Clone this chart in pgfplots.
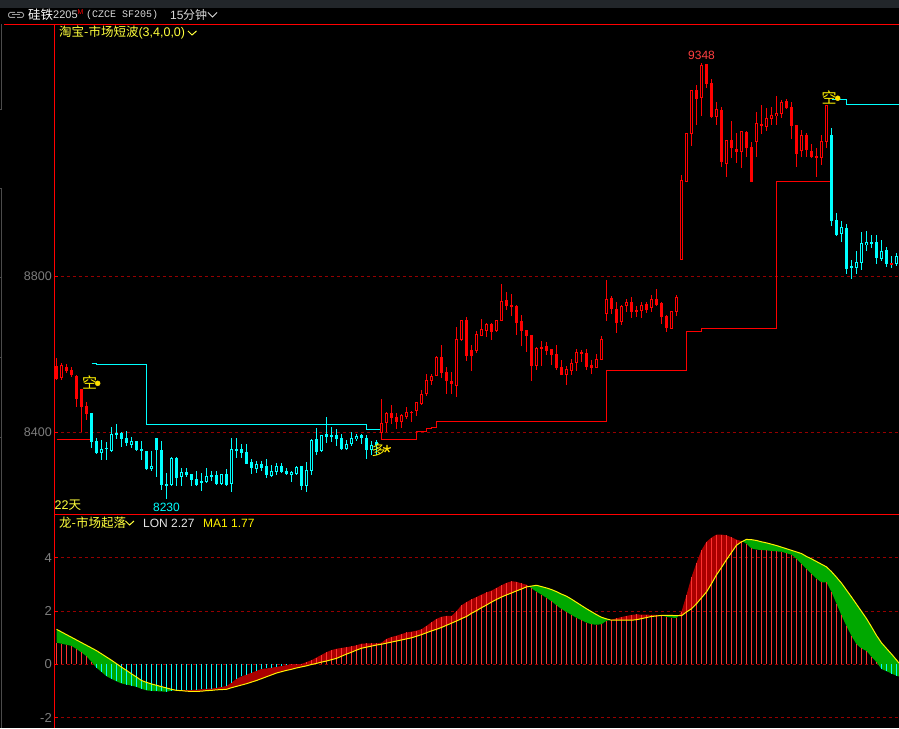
\documentclass[border=0pt]{standalone}
\usepackage{fontspec}
\setmainfont{Liberation Sans}
\newfontfamily\cjk{Noto Sans CJK SC}
\newfontfamily\mono{Liberation Mono}
\usepackage{pgfplots}
\usepackage{pgfplotstable}
\pgfplotsset{compat=1.18}

\definecolor{trendred}{RGB}{255,0,0}
\definecolor{trendcyan}{RGB}{0,255,255}
\definecolor{griddark}{RGB}{150,0,0}
\definecolor{fillred}{RGB}{170,0,0}
\definecolor{fillgreen}{RGB}{0,168,0}
\definecolor{barred}{RGB}{255,50,50}
\definecolor{ticktext}{RGB}{125,125,125}
\definecolor{softyellow}{RGB}{255,255,60}
\definecolor{band}{RGB}{34,38,42}
\definecolor{edge}{RGB}{75,75,75}

% x o h l c, one row per 15 minute bar
\pgfplotstableread{
x o h l c
0 8571 8590 8535 8537
2 8567 8576 8553 8558
3 8560 8567 8543 8547
4 8545 8547 8466 8485
5 8511 8511 8402 8466
6 8468 8478 8432 8447
67 8449 8470 8422 8437
68 8440 8449 8409 8427
71 8453 8455 8427 8451
77 8594 8624 8540 8553
78 8555 8568 8499 8532
79 8532 8555 8499 8524
82 8688 8696 8583 8596
83 8611 8624 8558 8596
87 8678 8681 8637 8658
90 8740 8760 8714 8724
91 8727 8755 8699 8722
92 8724 8727 8650 8681
93 8686 8701 8622 8660
94 8663 8663 8606 8647
95 8650 8650 8532 8570
97 8619 8635 8570 8614
98 8622 8632 8599 8609
99 8614 8614 8573 8599
100 8601 8624 8560 8565
101 8568 8586 8547 8547
105 8606 8612 8581 8601
106 8604 8614 8560 8568
107 8573 8586 8550 8565
111 8745 8750 8704 8717
112 8717 8735 8655 8681
115 8735 8747 8694 8709
116 8714 8724 8696 8709
118 8729 8735 8706 8714
120 8742 8768 8724 8727
121 8732 8735 8678 8696
122 8699 8701 8658 8668
128 9278 9291 9188 9255
130 9345 9345 9283 9293
131 9295 9306 9206 9209
133 9227 9234 9081 9094
135 9150 9199 9104 9129
136 9127 9168 9091 9119
138 9170 9173 9106 9129
139 9132 9145 9042 9042
141 9191 9240 9165 9186
146 9250 9255 9229 9232
147 9235 9247 9153 9186
148 9188 9188 9081 9114
150 9163 9168 9106 9124
151 9122 9140 9104 9106
152 9109 9129 9055 9104
167 8835 8835 8830 8830
}\redfilled

\pgfplotstableread{
x o h l c
1 8540 8578 8535 8573
65 8399 8486 8381 8424
66 8424 8453 8401 8450
69 8427 8447 8412 8445
70 8440 8465 8435 8453
72 8454 8479 8442 8477
73 8473 8509 8471 8498
74 8499 8550 8494 8535
75 8532 8550 8522 8545
76 8546 8596 8545 8594
80 8519 8670 8491 8640
81 8637 8688 8635 8688
84 8609 8660 8604 8652
85 8647 8691 8647 8665
86 8660 8681 8645 8678
88 8660 8688 8658 8688
89 8686 8781 8686 8737
96 8570 8619 8560 8617
102 8547 8570 8522 8563
103 8558 8588 8547 8578
104 8578 8614 8558 8606
108 8565 8601 8565 8588
109 8586 8647 8586 8640
110 8705 8791 8686 8741
113 8683 8727 8676 8724
114 8724 8742 8709 8735
117 8711 8735 8694 8727
119 8719 8752 8709 8742
123 8665 8711 8665 8711
124 8709 8752 8699 8747
125 8842 9060 8842 9047
126 9043 9167 9043 9167
127 9165 9278 9135 9278
129 9259 9348 9211 9342
132 9209 9247 9188 9229
134 9088 9150 9055 9149
137 9119 9173 9078 9172
140 9145 9222 9106 9194
142 9183 9232 9173 9206
143 9204 9235 9188 9214
144 9211 9263 9188 9218
145 9217 9252 9206 9247
149 9122 9176 9106 9163
153 9104 9163 9086 9147
154 9145 9240 9129 9240
}\redhollow

\pgfplotstableread{
x o h l c
7 8449 8449 8359 8376
8 8378 8385 8347 8348
10 8361 8376 8329 8358
12 8399 8421 8383 8394
13 8399 8402 8364 8383
14 8386 8404 8365 8372
16 8377 8377 8353 8355
17 8358 8377 8329 8354
18 8353 8353 8304 8306
20 8385 8385 8287 8355
21 8355 8377 8253 8266
22 8268 8295 8230 8264
24 8335 8338 8264 8283
26 8299 8308 8285 8292
27 8294 8294 8264 8278
28 8281 8301 8265 8266
29 8276 8295 8251 8271
31 8291 8301 8276 8288
32 8291 8301 8265 8268
34 8294 8306 8264 8265
36 8358 8385 8335 8353
37 8358 8370 8335 8348
38 8350 8370 8319 8319
39 8324 8332 8293 8310
41 8318 8328 8300 8308
42 8314 8332 8284 8291
45 8313 8322 8295 8298
46 8301 8308 8291 8294
49 8314 8314 8253 8264
52 8383 8411 8342 8351
54 8396 8440 8372 8389
55 8394 8414 8376 8389
56 8394 8409 8366 8383
57 8386 8396 8357 8358
61 8394 8396 8370 8386
62 8386 8394 8332 8355
64 8375 8381 8342 8368
155 9163 9181 8929 8942
156 8945 8963 8904 8906
158 8924 8935 8806 8819
159 8827 8842 8794 8822
163 8888 8906 8873 8885
164 8888 8906 8832 8847
166 8868 8876 8824 8832
167 8835 8853 8822 8830
}\cyanfilled

\pgfplotstableread{
x o h l c
9 8348 8381 8329 8359
11 8353 8413 8351 8395
15 8367 8389 8359 8377
19 8307 8353 8300 8314
23 8265 8338 8264 8335
25 8287 8308 8264 8299
30 8273 8308 8270 8288
33 8268 8294 8265 8294
35 8268 8385 8248 8358
40 8307 8328 8297 8318
43 8288 8317 8287 8301
44 8299 8321 8291 8313
47 8292 8300 8274 8298
48 8294 8314 8291 8312
50 8264 8325 8248 8303
51 8302 8383 8291 8381
53 8353 8394 8351 8393
58 8358 8381 8355 8370
59 8370 8401 8366 8386
60 8383 8396 8378 8391
63 8355 8378 8342 8368
157 8909 8942 8888 8927
160 8822 8865 8806 8837
161 8835 8914 8817 8886
162 8881 8917 8865 8888
165 8845 8894 8840 8865
168 8832 8860 8827 8852
}\cyanhollow

% LON and its average MA1
\pgfplotstableread{
x lon ma
0 0.82 1.32
1 0.78 1.22
2 0.74 1.12
3 0.70 1.02
4 0.58 0.92
5 0.45 0.82
6 0.31 0.72
7 0.10 0.62
8 -0.12 0.52
9 -0.28 0.40
10 -0.44 0.28
11 -0.54 0.16
12 -0.63 0.03
13 -0.71 -0.10
14 -0.75 -0.22
15 -0.79 -0.35
16 -0.84 -0.47
17 -0.91 -0.60
18 -0.97 -0.67
19 -0.99 -0.73
20 -1.00 -0.78
21 -1.01 -0.83
22 -1.02 -0.88
23 -0.98 -0.93
24 -0.96 -0.97
25 -0.96 -0.98
26 -0.96 -1.00
27 -0.96 -1.01
28 -0.94 -1.01
29 -0.93 -1.00
30 -0.91 -0.98
31 -0.90 -0.97
32 -0.88 -0.95
33 -0.84 -0.94
34 -0.81 -0.93
35 -0.68 -0.87
36 -0.54 -0.82
37 -0.45 -0.77
38 -0.38 -0.72
39 -0.31 -0.66
40 -0.24 -0.60
41 -0.17 -0.53
42 -0.15 -0.46
43 -0.12 -0.39
44 -0.09 -0.32
45 -0.06 -0.27
46 -0.02 -0.22
47 0.01 -0.18
48 0.01 -0.13
49 0.02 -0.09
50 0.09 -0.05
51 0.16 0.00
52 0.26 0.04
53 0.36 0.09
54 0.46 0.13
55 0.54 0.18
56 0.59 0.23
57 0.62 0.31
58 0.65 0.39
59 0.68 0.46
60 0.72 0.54
61 0.78 0.61
62 0.79 0.65
63 0.79 0.69
64 0.79 0.73
65 0.82 0.76
66 0.96 0.80
67 1.03 0.84
68 1.08 0.88
69 1.14 0.92
70 1.20 0.96
71 1.23 1.00
72 1.27 1.06
73 1.32 1.12
74 1.45 1.19
75 1.58 1.26
76 1.71 1.32
77 1.79 1.39
78 1.82 1.47
79 1.82 1.55
80 2.00 1.63
81 2.22 1.72
82 2.34 1.80
83 2.44 1.92
84 2.53 2.02
85 2.62 2.13
86 2.70 2.23
87 2.77 2.34
88 2.87 2.44
89 2.97 2.53
90 3.06 2.61
91 3.12 2.68
92 3.10 2.76
93 3.04 2.83
94 2.99 2.91
95 2.86 2.94
96 2.73 2.97
97 2.62 2.92
98 2.50 2.87
99 2.37 2.81
100 2.22 2.73
101 2.08 2.64
102 1.97 2.56
103 1.86 2.45
104 1.75 2.33
105 1.66 2.21
106 1.57 2.09
107 1.51 1.98
108 1.49 1.87
109 1.51 1.77
110 1.64 1.71
111 1.68 1.66
112 1.73 1.66
113 1.78 1.66
114 1.82 1.66
115 1.86 1.66
116 1.88 1.68
117 1.87 1.72
118 1.87 1.76
119 1.86 1.80
120 1.86 1.82
121 1.84 1.84
122 1.79 1.84
123 1.76 1.84
124 1.74 1.83
125 1.98 1.83
126 2.61 1.97
127 3.28 2.09
128 3.81 2.28
129 4.29 2.50
130 4.60 2.72
131 4.76 3.03
132 4.87 3.36
133 4.87 3.64
134 4.84 3.93
135 4.77 4.20
136 4.68 4.47
137 4.63 4.60
138 4.53 4.69
139 4.35 4.68
140 4.31 4.65
141 4.29 4.60
142 4.28 4.56
143 4.26 4.51
144 4.24 4.46
145 4.23 4.40
146 4.17 4.34
147 4.12 4.28
148 3.96 4.22
149 3.77 4.16
150 3.58 4.05
151 3.40 3.96
152 3.22 3.86
153 3.08 3.76
154 3.08 3.66
155 2.72 3.48
156 2.28 3.27
157 1.84 3.05
158 1.44 2.79
159 1.07 2.53
160 0.76 2.26
161 0.60 1.99
162 0.51 1.72
163 0.29 1.41
164 0.09 1.09
165 -0.17 0.81
166 -0.25 0.60
167 -0.34 0.39
168 -0.42 0.17
168.5 -0.45 0.05
}\lontable

\pgfplotsset{
  panel/.style={
    scale only axis, width=844.5pt,
    xmin=-0.4, xmax=168.5, enlargelimits=false,
    axis x line=top, axis y line=left,
    axis line style={-, red, line width=1pt},
    xtick=\empty, tick align=inside,
    major tick length=3pt,
    tick style={red, line width=1pt},
    ymajorgrids,
    grid style={griddark, line width=1pt, dash pattern=on 3pt off 3pt},
    scaled y ticks=false,
    /pgf/number format/assume math mode=true,
    /pgf/number format/set thousands separator={},
    tick label style={font=\fontsize{12.5}{13}\selectfont, text=ticktext, inner sep=0pt, xshift=-2.5pt},
  },
  % only marks brings a filled dot back, so the dot is made empty
  stick/.style={only marks, mark=*, mark size=0pt, mark options={draw=none, fill=none}, forget plot,
    error bars/y dir=both, error bars/y explicit, error bars/error mark=none,
    error bars/error bar style={#1, line width=1pt, line cap=butt, solid}},
  body/.style={only marks, mark=*, mark size=0pt, mark options={draw=none, fill=none}, forget plot,
    error bars/y dir=both, error bars/y explicit, error bars/error mark=none,
    error bars/error bar style={#1, line width=3pt, line cap=butt, solid}},
  table/wickcols/.style={x=x, y=c, y error plus expr=\thisrow{h}-\thisrow{c}, y error minus expr=\thisrow{c}-\thisrow{l}},
  table/bodycols/.style={x=x, y expr=(\thisrow{o}+\thisrow{c})/2, y error expr=abs(\thisrow{o}-\thisrow{c})/2},
  table/innercols/.style={x=x, y expr=(\thisrow{o}+\thisrow{c})/2, y error expr={max(abs(\thisrow{o}-\thisrow{c})/2-2.564,0)}},
  area/.style={fill=#1, draw=none, forget plot},
}

\begin{document}
\begin{tikzpicture}
\useasboundingbox (0,0) rectangle (899pt,728pt);
\fill[black] (0,0) rectangle (899pt,728pt);
\fill[band] (0,720pt) rectangle (899pt,728pt);

% window edge
\draw[edge, line width=1pt] (1.5pt,703.5pt) -- (1.5pt,618pt) -- (0,618pt);
\draw[edge, line width=1pt] (0,539pt) -- (1.5pt,539pt) -- (1.5pt,0);
\draw[edge, line width=1pt] (0,450pt) -- (1.5pt,450pt);
\draw[edge, line width=1pt] (0,370pt) -- (1.5pt,370pt);
\draw[edge, line width=1pt] (0,290pt) -- (1.5pt,290pt);
\draw[red, line width=1pt] (4pt,703.5pt) -- (55pt,703.5pt);

\begin{axis}[panel, at={(54.5pt,213.5pt)}, anchor=south west, height=490pt,
  ymin=8189.7, ymax=9446.1, ytick={8400,8800}]

% stop levels
\addplot[trendred, line width=1pt, const plot, forget plot] coordinates {(0,8382.6)(7,8382.6)};
\addplot[trendcyan, line width=1pt, const plot, forget plot] coordinates {
  (7,8576.4)(8,8574.9)(18,8421)(62,8408.2)(65,8408.2)};
\addplot[trendred, line width=1pt, const plot, forget plot] coordinates {
  (65,8382.6)(72,8402)(74,8410.8)(75,8414)(76,8427.7)(110,8558.5)(126,8659.5)(129,8667.2)(144,9044)(155,9044)};
\addplot[trendcyan, line width=1pt, const plot, forget plot] coordinates {
  (155,9254.3)(158,9241.5)(168.5,9241.5)};

\addplot[stick=trendcyan] table[wickcols] {\cyanfilled};
\addplot[body=trendcyan] table[bodycols] {\cyanfilled};
\addplot[stick=trendcyan] table[wickcols] {\cyanhollow};
\addplot[body=trendcyan] table[bodycols] {\cyanhollow};
\addplot[stick=black] table[innercols] {\cyanhollow};

\addplot[stick=trendred] table[wickcols] {\redfilled};
\addplot[body=trendred] table[bodycols] {\redfilled};
\addplot[stick=trendred] table[wickcols] {\redhollow};
\addplot[body=trendred] table[bodycols] {\redhollow};
\addplot[stick=black] table[innercols] {\redhollow};

% signal dots
\addplot[only marks, mark=*, mark size=2.5pt, color={rgb,255:red,255;green,225;blue,0}, forget plot]
  coordinates {(8.24,8526)(156.24,9257)};
\addplot[only marks, mark=star, mark size=4pt, line width=1.2pt, color={rgb,255:red,255;green,225;blue,0}, forget plot]
  coordinates {(66.1,8358)};

\node[text=yellow, font=\cjk\fontsize{15}{15}\selectfont, inner sep=0pt] at (axis cs:6.6,8527) {空};
\node[text=yellow, font=\cjk\fontsize{15}{15}\selectfont, inner sep=0pt] at (axis cs:154.5,9258) {空};
\node[text=yellow, font=\cjk\fontsize{14}{14}\selectfont, inner sep=0pt] at (axis cs:64.4,8355) {多};

\node[anchor=south, text={rgb,255:red,255;green,64;blue,64}, font=\fontsize{12}{12}\selectfont, inner sep=0pt, yshift=2.5pt] at (axis cs:129,9348) {9348};
\node[anchor=north, text=trendcyan, font=\fontsize{12}{12}\selectfont, inner sep=0pt, yshift=-4pt] at (axis cs:22,8230) {8230};
\end{axis}

\begin{axis}[panel, at={(54.5pt,0pt)}, anchor=south west, height=213.5pt,
  ymin=-2.381, ymax=5.624, ytick={-2,0,2,4},
  tick label style={font=\fontsize{13}{13}\selectfont}]

% areas between LON and MA1, LON out and MA1 back
\addplot[area=fillgreen] coordinates {(0,0.82)(1,0.78)(2,0.74)(3,0.70)(4,0.58)(5,0.45)(6,0.31)(7,0.10)(8,-0.12)(9,-0.28)(10,-0.44)(11,-0.54)(12,-0.63)(13,-0.71)(14,-0.75)(15,-0.79)(16,-0.84)(17,-0.91)(18,-0.97)(19,-0.99)(20,-1.00)(21,-1.01)(22,-1.02)(23,-0.98)(23.8,-0.96)
  (23,-0.93)(22,-0.88)(21,-0.83)(20,-0.78)(19,-0.73)(18,-0.67)(17,-0.60)(16,-0.47)(15,-0.35)(14,-0.22)(13,-0.10)(12,0.03)(11,0.16)(10,0.28)(9,0.40)(8,0.52)(7,0.62)(6,0.72)(5,0.82)(4,0.92)(3,1.02)(2,1.12)(1,1.22)(0,1.32)};
\addplot[area=fillred] coordinates {(23.8,-0.96)(24,-0.96)(25,-0.96)(26,-0.96)(27,-0.96)(28,-0.94)(29,-0.93)(30,-0.91)(31,-0.90)(32,-0.88)(33,-0.84)(34,-0.81)(35,-0.68)(36,-0.54)(37,-0.45)(38,-0.38)(39,-0.31)(40,-0.24)(41,-0.17)(42,-0.15)(43,-0.12)(44,-0.09)(45,-0.06)(46,-0.02)(47,0.01)(48,0.01)(49,0.02)(50,0.09)(51,0.16)(52,0.26)(53,0.36)(54,0.46)(55,0.54)(56,0.59)(57,0.62)(58,0.65)(59,0.68)(60,0.72)(61,0.78)(62,0.79)(63,0.79)(64,0.79)(65,0.82)(66,0.96)(67,1.03)(68,1.08)(69,1.14)(70,1.20)(71,1.23)(72,1.27)(73,1.32)(74,1.45)(75,1.58)(76,1.71)(77,1.79)(78,1.82)(79,1.82)(80,2.00)(81,2.22)(82,2.34)(83,2.44)(84,2.53)(85,2.62)(86,2.70)(87,2.77)(88,2.87)(89,2.97)(90,3.06)(91,3.12)(92,3.10)(93,3.04)(94,2.99)(94.5,2.925)
  (94,2.91)(93,2.83)(92,2.76)(91,2.68)(90,2.61)(89,2.53)(88,2.44)(87,2.34)(86,2.23)(85,2.13)(84,2.02)(83,1.92)(82,1.80)(81,1.72)(80,1.63)(79,1.55)(78,1.47)(77,1.39)(76,1.32)(75,1.26)(74,1.19)(73,1.12)(72,1.06)(71,1.00)(70,0.96)(69,0.92)(68,0.88)(67,0.84)(66,0.80)(65,0.76)(64,0.73)(63,0.69)(62,0.65)(61,0.61)(60,0.54)(59,0.46)(58,0.39)(57,0.31)(56,0.23)(55,0.18)(54,0.13)(53,0.09)(52,0.04)(51,0.00)(50,-0.05)(49,-0.09)(48,-0.13)(47,-0.18)(46,-0.22)(45,-0.27)(44,-0.32)(43,-0.39)(42,-0.46)(41,-0.53)(40,-0.60)(39,-0.66)(38,-0.72)(37,-0.77)(36,-0.82)(35,-0.87)(34,-0.93)(33,-0.94)(32,-0.95)(31,-0.97)(30,-0.98)(29,-1.00)(28,-1.01)(27,-1.01)(26,-1.00)(25,-0.98)(24,-0.97)};
\addplot[area=fillgreen] coordinates {(94.5,2.925)(95,2.94)(96,2.97)(97,2.92)(98,2.87)(99,2.81)(100,2.73)(101,2.64)(102,2.56)(103,2.45)(104,2.33)(105,2.21)(106,2.09)(107,1.98)(108,1.87)(109,1.77)(110,1.71)(110.8,1.67)
  (110,1.64)(109,1.51)(108,1.49)(107,1.51)(106,1.57)(105,1.66)(104,1.75)(103,1.86)(102,1.97)(101,2.08)(100,2.22)(99,2.37)(98,2.50)(97,2.62)(96,2.73)(95,2.86)};
\addplot[area=fillred] coordinates {(110.8,1.67)(111,1.68)(112,1.73)(113,1.78)(114,1.82)(115,1.86)(116,1.88)(117,1.87)(118,1.87)(119,1.86)(120,1.86)(121,1.84)
  (120,1.82)(119,1.80)(118,1.76)(117,1.72)(116,1.68)(115,1.66)(114,1.66)(113,1.66)(112,1.66)(111,1.66)};
\addplot[area=fillgreen] coordinates {(121,1.84)(122,1.84)(123,1.84)(124,1.83)(124.4,1.83)(124,1.74)(123,1.76)(122,1.79)};
\addplot[area=fillred] coordinates {(124.4,1.83)(125,1.98)(126,2.61)(127,3.28)(128,3.81)(129,4.29)(130,4.60)(131,4.76)(132,4.87)(133,4.87)(134,4.84)(135,4.77)(136,4.68)(137,4.63)(137.2,4.61)
  (137,4.60)(136,4.47)(135,4.20)(134,3.93)(133,3.64)(132,3.36)(131,3.03)(130,2.72)(129,2.50)(128,2.28)(127,2.09)(126,1.97)(125,1.83)};
\addplot[area=fillgreen] coordinates {(137.2,4.61)(138,4.69)(139,4.68)(140,4.65)(141,4.60)(142,4.56)(143,4.51)(144,4.46)(145,4.40)(146,4.34)(147,4.28)(148,4.22)(149,4.16)(150,4.05)(151,3.96)(152,3.86)(153,3.76)(154,3.66)(155,3.48)(156,3.27)(157,3.05)(158,2.79)(159,2.53)(160,2.26)(161,1.99)(162,1.72)(163,1.41)(164,1.09)(165,0.81)(166,0.60)(167,0.39)(168,0.17)(168.5,0.05)
  (168.5,-0.45)(168,-0.42)(167,-0.34)(166,-0.25)(165,-0.17)(164,0.09)(163,0.29)(162,0.51)(161,0.60)(160,0.76)(159,1.07)(158,1.44)(157,1.84)(156,2.28)(155,2.72)(154,3.08)(153,3.08)(152,3.22)(151,3.40)(150,3.58)(149,3.77)(148,3.96)(147,4.12)(146,4.17)(145,4.23)(144,4.24)(143,4.26)(142,4.28)(141,4.29)(140,4.31)(139,4.35)(138,4.53)};

% LON bars from zero
\addplot[stick=barred, restrict x to domain=0:168]
  table[x=x, y expr={max(\thisrow{lon},0)}, y error minus expr={max(\thisrow{lon},0)}, y error plus expr=0] {\lontable};
\addplot[stick=trendcyan, restrict x to domain=0:168]
  table[x=x, y expr={min(\thisrow{lon},0)}, y error plus expr={-min(\thisrow{lon},0)}, y error minus expr=0] {\lontable};

\addplot[yellow, line width=1pt, forget plot] table[x=x, y=ma] {\lontable};
\end{axis}

% header text
\draw[gray!80!white, line width=1pt, rounded corners=1.5pt] (15pt,710.5pt) -- (8.5pt,710.5pt) -- (8.5pt,715.5pt) -- (15pt,715.5pt);
\draw[gray!80!white, line width=1pt, rounded corners=1.5pt] (17pt,710.5pt) -- (23.5pt,710.5pt) -- (23.5pt,715.5pt) -- (17pt,715.5pt);
\draw[gray!80!white, line width=1pt] (12pt,713pt) -- (20pt,713pt);
\node[anchor=west, inner sep=0pt, text=white, font=\cjk\fontsize{12.5}{13}\selectfont] at (28pt,713pt) {硅铁};
\node[anchor=west, inner sep=0pt, text=white!85!black, font=\fontsize{11}{12}\selectfont] at (53pt,713pt) {2205};
\node[anchor=west, inner sep=0pt, text=red, font=\fontsize{7}{7}\selectfont] at (77.5pt,716pt) {M};
\node[anchor=west, inner sep=0pt, text=white!85!black, font=\mono\fontsize{10}{12}\selectfont] at (86pt,713pt) {(CZCE SF205)};
\node[anchor=west, inner sep=0pt, text=white!85!black, font=\fontsize{12}{12}\selectfont] at (170pt,713pt) {15};
\node[anchor=west, inner sep=0pt, text=white!85!black, font=\cjk\fontsize{12}{12}\selectfont] at (183pt,713pt) {分钟};
\draw[white!85!black, line width=1pt] (208pt,715.5pt) -- (212.5pt,711pt) -- (217pt,715.5pt);

\node[anchor=west, inner sep=0pt, text=softyellow, font=\fontsize{12.5}{13}\selectfont] at (59pt,695pt) {\cjk 淘宝-市场短波\fontspec{Liberation Sans}(3,4,0,0)};
\draw[softyellow, line width=1pt] (188pt,697pt) -- (192pt,693pt) -- (196.5pt,697pt);

\node[anchor=west, inner sep=0pt, text=softyellow, font=\fontsize{12.5}{13}\selectfont] at (54.5pt,222.5pt) {22\cjk 天};

\node[anchor=west, inner sep=0pt, text=softyellow, font=\cjk\fontsize{12.5}{13}\selectfont] at (59pt,205pt) {龙-市场起落};
\draw[softyellow, line width=1pt] (125.5pt,207pt) -- (129.5pt,203pt) -- (134pt,207pt);
\node[anchor=west, inner sep=0pt, text=white!90!black, font=\fontsize{12}{12}\selectfont] at (143pt,205pt) {LON 2.27};
\node[anchor=west, inner sep=0pt, text=yellow, font=\fontsize{12}{12}\selectfont] at (203pt,205pt) {MA1 1.77};
\end{tikzpicture}
\end{document}
